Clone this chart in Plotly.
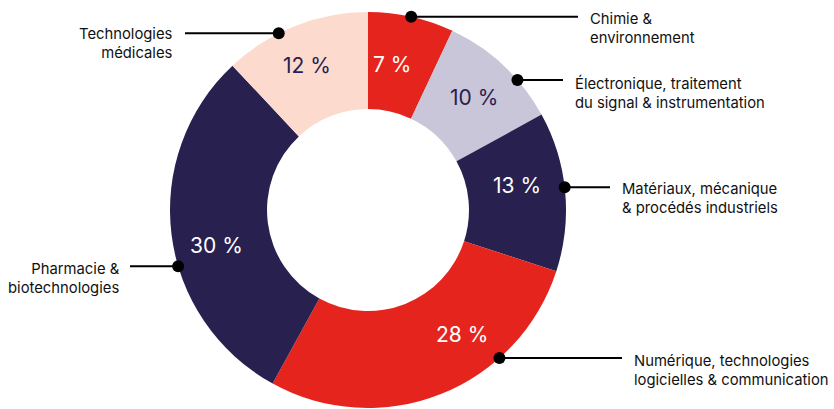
import math
import plotly.graph_objects as go

# ---- data ----
categories = [
    "Chimie &<br>environnement",
    "Électronique, traitement<br>du signal & instrumentation",
    "Matériaux, mécanique<br>& procédés industriels",
    "Numérique, technologies<br>logicielles & communication",
    "Pharmacie &<br>biotechnologies",
    "Technologies<br>médicales",
]
values = [7, 10, 13, 28, 30, 12]
pct_labels = ["7 %", "10 %", "13 %", "28 %", "30 %", "12 %"]

# ---- styles ----
colors = ["#E5241D", "#C8C6D8", "#28214F", "#E5241D", "#28214F", "#FCDBCE"]
text_colors = ["white", "#28214F", "white", "white", "white", "#28214F"]
W, H = 834, 409
cx, cy, R = 368, 210, 198
hole = 0.51
FONT = "Inter, Open Sans, sans-serif"

pct_angle = [9.5, 43.2, 80.5, 143, 257, 337]
pct_radius = [148, 155, 151, 156, 156, 157]
dot_angle = [12.6, 49, 83.4, 138.4, 253.5, 333.2]
line_end_x = [578, 563, 610, 622, 130, 185]
label_side = ["left", "left", "left", "left", "right", "right"]
label_x = [588, 573, 620, 632, 122, 175]
label_dy = [-9, -8, -9, -8, -8, -10]
dot_r = 6

fig = go.Figure()
fig.add_trace(go.Pie(
    values=values,
    labels=[c.replace("<br>", " ") for c in categories],
    sort=False,
    direction="clockwise",
    rotation=0,
    hole=hole,
    marker=dict(colors=colors, line=dict(width=0)),
    textinfo="none",
    hoverinfo="label+percent",
    showlegend=False,
    domain=dict(x=[(cx - R) / W, (cx + R) / W], y=[(H - (cy + R)) / H, (H - (cy - R)) / H]),
))
# invisible trace to set up the overlay pixel axes
fig.add_trace(go.Scatter(x=[0, W], y=[0, H], mode="markers", marker=dict(opacity=0),
                         hoverinfo="skip", showlegend=False))

annotations, shapes = [], []
for i, v in enumerate(values):
    a = math.radians(pct_angle[i])
    px = cx + pct_radius[i] * math.sin(a)
    py = cy - pct_radius[i] * math.cos(a)
    annotations.append(dict(x=px, y=py, xref="x", yref="y", text=pct_labels[i], showarrow=False,
                            font=dict(family=FONT, size=21, color=text_colors[i]),
                            xanchor="center", yanchor="middle"))
    d = math.radians(dot_angle[i])
    dx = cx + R * math.sin(d)
    dy = cy - R * math.cos(d)
    shapes.append(dict(type="line", xref="x", yref="y", x0=dx, y0=dy, x1=line_end_x[i], y1=dy,
                       line=dict(color="black", width=2), layer="above"))
    shapes.append(dict(type="circle", xref="x", yref="y", x0=dx - dot_r, x1=dx + dot_r,
                       y0=dy - dot_r, y1=dy + dot_r, fillcolor="black",
                       line=dict(color="black", width=0), layer="above"))
    annotations.append(dict(x=label_x[i], y=dy + label_dy[i], xref="x", yref="y",
                            text=categories[i], showarrow=False,
                            font=dict(family=FONT, size=14.8, color="#111111"),
                            xanchor="left" if label_side[i] == "left" else "right",
                            align=label_side[i], yanchor="top"))

fig.update_layout(
    width=W, height=H,
    margin=dict(l=0, r=0, t=0, b=0),
    paper_bgcolor="white", plot_bgcolor="rgba(0,0,0,0)",
    xaxis=dict(range=[0, W], visible=False, domain=[0, 1], fixedrange=True),
    yaxis=dict(range=[H, 0], visible=False, domain=[0, 1], fixedrange=True),
    annotations=annotations,
    shapes=shapes,
)

fig.write_html("out.html", config={"displayModeBar": False},
               post_script="document.body.style.margin='0px';")
